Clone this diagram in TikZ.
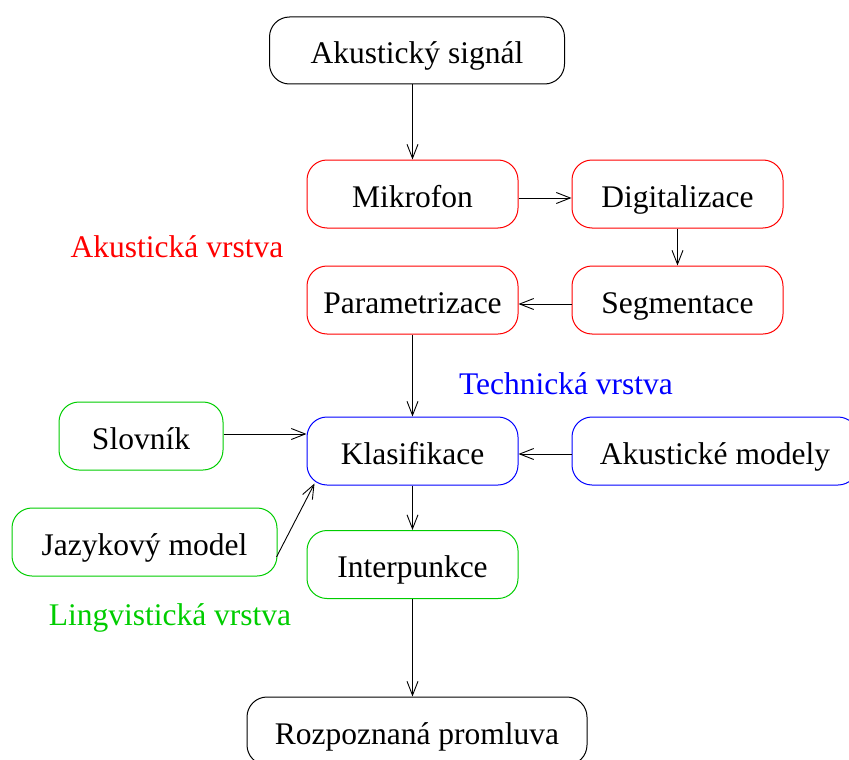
\documentclass[tikz,border=0pt]{standalone}
\usepackage{fontspec}
\setmainfont{Liberation Serif}
\usetikzlibrary{arrows.meta}
\definecolor{fgreen}{RGB}{0,205,0}
\begin{document}
\begin{tikzpicture}[x=1pt,y=-1pt,
  box/.style={draw,rounded corners=20pt,line width=1pt,inner sep=0pt,text height=30pt,text depth=4pt,font=\fontsize{31.5}{36}\selectfont},
  conn/.style={-{Straight Barb[length=14pt,width=11pt,line width=0.9pt]},line width=0.9pt},
  layer/.style={font=\fontsize{31.5}{36}\selectfont}]
\useasboundingbox (0,0) rectangle (849,760);
\node[box,black,text=black,minimum width=295pt,minimum height=67pt] (sig) at (417,50.5) {Akustický signál};
\node[box,red,text=black,minimum width=211pt,minimum height=68pt] (mik) at (412.5,194) {Mikrofon};
\node[box,red,text=black,minimum width=211pt,minimum height=68pt] (dig) at (677.5,194) {Digitalizace};
\node[box,red,text=black,minimum width=211pt,minimum height=68pt] (par) at (412.5,300) {Parametrizace};
\node[box,red,text=black,minimum width=211pt,minimum height=68pt] (seg) at (677.5,300) {Segmentace};
\node[box,blue,text=black,minimum width=211pt,minimum height=68pt] (kla) at (412.5,451) {Klasifikace};
\node[box,blue,text=black,minimum width=286pt,minimum height=68pt] (akm) at (715,451) {Akustické modely};
\node[box,fgreen,text=black,minimum width=164pt,minimum height=68pt] (slo) at (141,436) {Slovník};
\node[box,fgreen,text=black,minimum width=265pt,minimum height=68pt] (jaz) at (144.5,542) {Jazykový model};
\node[box,fgreen,text=black,minimum width=211pt,minimum height=68pt] (int) at (412.5,564.5) {Interpunkce};
\node[box,black,text=black,minimum width=340pt,minimum height=68pt] (roz) at (417,731) {Rozpoznaná promluva};
\node[layer,red] (la) at (177,247) {Akustická vrstva};
\node[layer,blue] (lt) at (566,384) {Technická vrstva};
\node[layer,fgreen] (ll) at (170,618) {Lingvistická vrstva};
\draw[conn] (sig.south -| mik.north) -- (mik.north);
\draw[conn] ([yshift=-4pt]mik.east) -- ([yshift=-4pt]dig.west);
\draw[conn] (dig.south) -- (dig.north |- seg.north);
\draw[conn] ([yshift=-4pt]seg.west) -- ([yshift=-4pt]par.east);
\draw[conn] (par.south) -- (kla.north);
\draw[conn] ([yshift=2pt]slo.east) -- ([yshift=2pt]slo.east -| kla.west);
\draw[conn] ([yshift=-3pt]akm.west) -- ([yshift=-3pt]kla.west -| kla.east);
\draw[conn] ([xshift=-1pt,yshift=-15pt]jaz.east) -- ([xshift=8pt,yshift=2pt]kla.south west);
\draw[conn] (kla.south) -- (int.north);
\draw[conn] (int.south) -- (roz.north -| int.south);
\end{tikzpicture}
\end{document}
